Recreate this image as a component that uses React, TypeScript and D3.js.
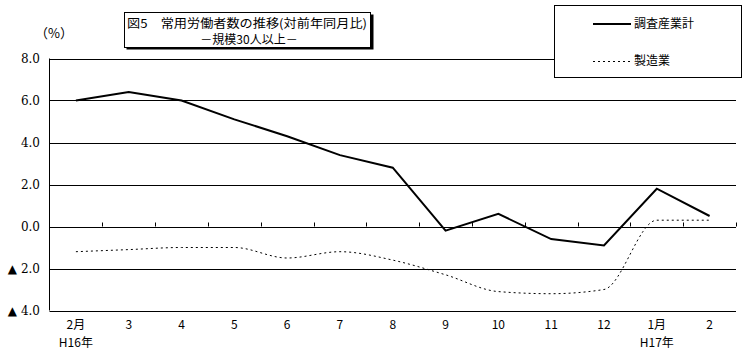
import React from "react";
import * as d3 from "d3";

const categories = ["2月", "3", "4", "5", "6", "7", "8", "9", "10", "11", "12", "1月", "2"];
const subLabels = ["H16年", "", "", "", "", "", "", "", "", "", "", "H17年", ""];
const totalIndustry = [6.0, 6.4, 6.0, 5.1, 4.3, 3.4, 2.8, -0.2, 0.6, -0.6, -0.9, 1.8, 0.5];
const manufacturing = [-1.2, -1.1, -1.0, -1.0, -1.5, -1.2, -1.6, -2.3, -3.1, -3.2, -3.0, 0.3, 0.3];
const yTicks = [8, 6, 4, 2, 0, -2, -4];
const seriesNames = ["調査産業計", "製造業"];
const titleLine1 = "図5　常用労働者数の推移(対前年同月比)";
const titleLine2 = "－規模30人以上－";

const W = 756;
const H = 360;
const left = 49.5;
const right = 736;
const top = 58.5;
const bottom = 310.5;

export default function App() {
  const x = d3.scaleBand<string>().domain(categories).range([left, right]);
  const y = d3.scaleLinear().domain([-4, 8]).range([bottom, top]);
  const cx = (i: number) => (x(categories[i]) as number) + x.bandwidth() / 2;

  const solidLine = d3
    .line<number>()
    .x((_, i) => cx(i))
    .y((d) => y(d))
    .curve(d3.curveLinear)(totalIndustry) as string;
  const dotLine = d3
    .line<number>()
    .x((_, i) => cx(i))
    .y((d) => y(d))
    .curve(d3.curveMonotoneX)(manufacturing) as string;

  const jp = "'Noto Sans CJK JP', 'Noto Sans', sans-serif";
  const serif = "'DejaVu Serif', 'Liberation Serif', serif";

  const boundaries = categories.map((c) => (x(c) as number) + x.bandwidth());

  return (
    <svg width={W} height={H} style={{ position: "absolute", left: 0, top: 0, background: "#fff" }}>
      <rect x={0} y={0} width={W} height={H} fill="#fff" />
      {/* gridlines */}
      {yTicks.map((t) => (
        <line key={t} x1={left} x2={right} y1={Math.round(y(t)) + 0.5} y2={Math.round(y(t)) + 0.5} stroke="#000" strokeWidth={1} />
      ))}
      {/* y axis */}
      <line x1={left} x2={left} y1={top} y2={bottom} stroke="#000" strokeWidth={1} />
      {/* x ticks on zero line */}
      {boundaries.map((b, i) => (
        <line key={i} x1={Math.round(b) + 0.5} x2={Math.round(b) + 0.5} y1={y(0) - 4} y2={y(0)} stroke="#000" strokeWidth={1} />
      ))}
      {/* y labels */}
      {yTicks.map((t) => (
        <text key={t} x={40} y={y(t)} dy="0.36em" textAnchor="end" fontFamily={serif} fontSize={12} fill="#000">
          {t < 0 ? "▲ " + Math.abs(t).toFixed(1) : t.toFixed(1)}
        </text>
      ))}
      {/* x labels */}
      {categories.map((c, i) => (
        <g key={i}>
          <text x={cx(i)} y={325} dy="0.36em" textAnchor="middle" fontFamily={jp} fontSize={12} fill="#000">
            {c}
          </text>
          {subLabels[i] && (
            <text x={cx(i)} y={343} dy="0.36em" textAnchor="middle" fontFamily={jp} fontSize={12} fill="#000">
              {subLabels[i]}
            </text>
          )}
        </g>
      ))}
      {/* series */}
      <path d={dotLine} fill="none" stroke="#000" strokeWidth={1} strokeDasharray="2,3" />
      <path d={solidLine} fill="none" stroke="#000" strokeWidth={2} strokeLinejoin="miter" />
      {/* (%) */}
      <text x={54} y={33} dy="0.36em" textAnchor="middle" fontFamily={jp} fontSize={13} fill="#000">
        （%）
      </text>
      {/* title box with shadow */}
      <rect x={126.5} y={14.5} width={247} height={35} fill="#000" />
      <rect x={124.5} y={12.5} width={246} height={35} fill="#fff" stroke="#000" strokeWidth={1} />
      <text x={127} y={24} dy="0.36em" fontFamily={jp} fontSize={12} fill="#000" textLength={240} lengthAdjust="spacingAndGlyphs">
        {titleLine1}
      </text>
      <text x={249} y={39.5} dy="0.36em" textAnchor="middle" fontFamily={jp} fontSize={12} fill="#000">
        {titleLine2}
      </text>
      {/* legend */}
      <rect x={554.5} y={5.5} width={187} height={72} fill="#fff" stroke="#000" strokeWidth={1} />
      <line x1={593} x2={631} y1={24} y2={24} stroke="#000" strokeWidth={2} />
      <text x={634} y={24} dy="0.36em" fontFamily={jp} fontSize={12} fill="#000">
        {seriesNames[0]}
      </text>
      <line x1={593} x2={631} y1={61.5} y2={61.5} stroke="#000" strokeWidth={1} strokeDasharray="2,3" />
      <text x={634} y={61} dy="0.36em" fontFamily={jp} fontSize={12} fill="#000">
        {seriesNames[1]}
      </text>
    </svg>
  );
}
